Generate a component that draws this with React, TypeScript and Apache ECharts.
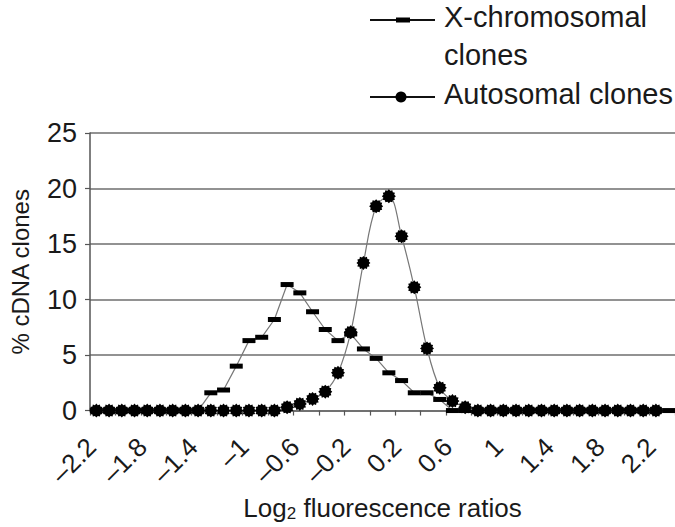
import React, { useEffect, useRef } from "react";
import * as echarts from "echarts";

const categories = [
  "-2.2", "-2.1", "-2", "-1.9", "-1.8", "-1.7", "-1.6", "-1.5", "-1.4", "-1.3",
  "-1.2", "-1.1", "-1", "-0.9", "-0.8", "-0.7", "-0.6", "-0.5", "-0.4", "-0.3",
  "-0.2", "-0.1", "0", "0.1", "0.2", "0.3", "0.4", "0.5", "0.6", "0.7",
  "0.8", "0.9", "1", "1.1", "1.2", "1.3", "1.4", "1.5", "1.6", "1.7",
  "1.8", "1.9", "2", "2.1", "2.2", "2.3",
];

const xChromosomal = [
  0, 0, 0, 0, 0, 0, 0, 0, 0, 1.6,
  1.85, 4.0, 6.3, 6.6, 8.2, 11.35, 10.6, 8.9, 7.3, 6.3,
  6.9, 5.55, 4.7, 3.4, 2.7, 1.6, 1.6, 1.0, 0, 0,
  0, 0, 0, 0, 0, 0, 0, 0, 0, 0,
  0, 0, 0, 0, 0, 0,
];

const autosomal: (number | null)[] = [
  0, 0, 0, 0, 0, 0, 0, 0, 0, 0,
  0, 0, 0, 0, 0, 0.3, 0.6, 1.05, 1.7, 3.4,
  7.05, 13.3, 18.4, 19.3, 15.7, 11.1, 5.6, 2.05, 0.85, 0.3,
  0, 0, 0, 0, 0, 0, 0, 0, 0, 0,
  0, 0, 0, 0, 0, null,
];

const seriesNames = ["X-chromosomal clones", "Autosomal clones"];
const legendLines = [["X-chromosomal", "clones"], ["Autosomal clones"]];
const yMin = 0;
const yMax = 25;
const yStep = 5;

function gearPath(points: number, outer: number, inner: number): string {
  const parts: string[] = [];
  for (let i = 0; i < points * 2; i++) {
    const a = (i * Math.PI) / points;
    const r = i % 2 === 0 ? outer : inner;
    const x = (50 + r * Math.cos(a)).toFixed(2);
    const y = (50 + r * Math.sin(a)).toFixed(2);
    parts.push((i === 0 ? "M" : "L") + x + " " + y);
  }
  return "path://" + parts.join(" ") + " Z";
}

const FONT = '"Liberation Sans", Arial, Helvetica, sans-serif';
const TEXT = "#1a1a1a";

export default function App() {
  const ref = useRef<HTMLDivElement>(null);

  useEffect(() => {
    if (!ref.current) return;
    const chart = echarts.init(ref.current, undefined, { renderer: "svg" });
    const star = gearPath(12, 50, 40);
    const legendFont = `29px ${FONT}`;
    chart.setOption({
      animation: false,
      backgroundColor: "#ffffff",
      grid: { left: 82, right: 0, top: 133, bottom: 102, containLabel: false },
      xAxis: {
        type: "category",
        data: categories,
        boundaryGap: true,
        axisLine: { show: true, lineStyle: { color: "#666", width: 1.5 } },
        axisTick: { show: true, interval: 1, length: 5, lineStyle: { color: "#555", width: 1.2 } },
        axisLabel: {
          interval: 3,
          rotate: 45,
          margin: 27,
          padding: [0, 7, 0, 0],
          fontSize: 26,
          fontFamily: FONT,
          color: TEXT,
          formatter: (v: string) => v.replace("-", "\u2013"),
        },
        name: "Log{sub|2} fluorescence ratios",
        nameLocation: "middle",
        nameGap: 77,
        nameTextStyle: {
          fontSize: 26,
          fontFamily: FONT,
          color: TEXT,
          rich: {
            sub: { fontSize: 17, fontFamily: FONT, color: TEXT, verticalAlign: "bottom", padding: [12, 0, 0, 0] },
          },
        },
      },
      yAxis: {
        type: "value",
        min: yMin,
        max: yMax,
        interval: yStep,
        axisLine: { show: true, lineStyle: { color: "#555", width: 1.5 } },
        axisTick: { show: true, length: 5, lineStyle: { color: "#555", width: 1.2 } },
        axisLabel: { fontSize: 27, fontFamily: FONT, color: TEXT, margin: 13 },
        splitLine: { show: true, lineStyle: { color: "#6e6e6e", width: 1.6 } },
        name: "% cDNA clones",
        nameLocation: "middle",
        nameRotate: 90,
        nameGap: 58,
        nameTextStyle: { fontSize: 24, fontFamily: FONT, color: TEXT },
      },
      series: [
        {
          name: seriesNames[0],
          type: "line",
          data: xChromosomal,
          symbol: "rect",
          symbolSize: [13, 5],
          showAllSymbol: true,
          clip: false,
          itemStyle: { color: "#000" },
          lineStyle: { color: "#777", width: 1.2 },
          z: 2,
        },
        {
          name: seriesNames[1],
          type: "line",
          data: autosomal,
          symbol: star,
          symbolSize: 14,
          showAllSymbol: true,
          smooth: 0.35,
          clip: false,
          itemStyle: { color: "#000" },
          lineStyle: { color: "#777", width: 1.2 },
          z: 3,
        },
      ],
      graphic: [
        { type: "line", shape: { x1: 370, y1: 20, x2: 435, y2: 20 }, style: { stroke: "#111", lineWidth: 2 } },
        { type: "rect", shape: { x: 396, y: 17.5, width: 14, height: 5 }, style: { fill: "#000" } },
        {
          type: "text",
          x: 444,
          y: 17,
          style: { text: legendLines[0][0], font: legendFont, fill: TEXT, verticalAlign: "middle", align: "left" },
        },
        {
          type: "text",
          x: 444,
          y: 55,
          style: { text: legendLines[0][1], font: legendFont, fill: TEXT, verticalAlign: "middle", align: "left" },
        },
        { type: "line", shape: { x1: 370, y1: 97, x2: 435, y2: 97 }, style: { stroke: "#111", lineWidth: 2 } },
        { type: "circle", shape: { cx: 401, cy: 97, r: 5.5 }, style: { fill: "#000" } },
        {
          type: "text",
          x: 444,
          y: 94,
          style: { text: legendLines[1][0], font: legendFont, fill: TEXT, verticalAlign: "middle", align: "left" },
        },
      ],
    });
    return () => chart.dispose();
  }, []);

  return (
    <div
      ref={ref}
      style={{ position: "fixed", left: 0, top: 0, width: 675, height: 527, background: "#fff" }}
    />
  );
}
